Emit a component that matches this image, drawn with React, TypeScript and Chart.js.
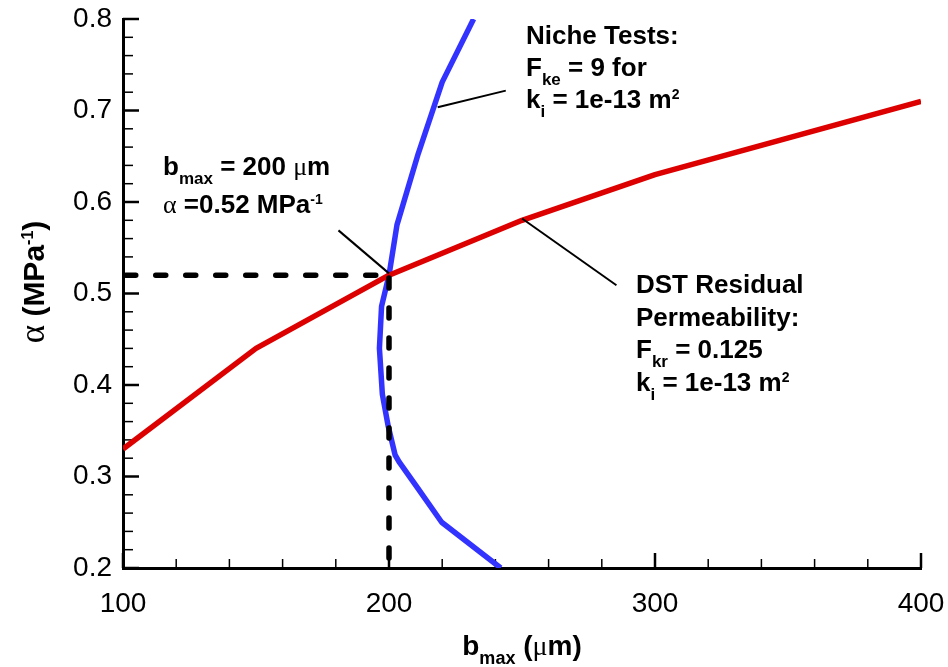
import React, { useEffect, useRef } from 'react';
import { Chart, registerables } from 'chart.js';

Chart.register(...registerables);

// ---- axis ticks ----
const xTickValues = [100, 200, 300, 400];
const yTickValues = [0.2, 0.3, 0.4, 0.5, 0.6, 0.7, 0.8];
const xMinorValues = [120, 140, 160, 180, 220, 240, 260, 280, 320, 340, 360, 380];
const yMinorValues = [0.22, 0.24, 0.26, 0.28, 0.32, 0.34, 0.36, 0.38, 0.42, 0.44, 0.46, 0.48, 0.52, 0.54, 0.56, 0.58, 0.62, 0.64, 0.66, 0.68, 0.72, 0.74, 0.76, 0.78];

// ---- DST residual permeability curve (red) ----
const dstBmax = [100, 150, 200, 250, 300, 400];
const dstAlpha = [0.33, 0.44, 0.52, 0.58, 0.63, 0.71];

// ---- Niche tests curve (blue) ----
const nicheBmax = [242, 219.8, 210.4, 203.8, 202.3, 199.7, 197.5, 196.4, 197.2, 200, 203, 211, 220, 231.8];
const nicheAlpha = [0.2, 0.25, 0.289, 0.316, 0.3235, 0.355, 0.39, 0.44, 0.486, 0.52, 0.575, 0.653, 0.731, 0.8];

// ---- dashed guide lines ----
const guideHBmax = [100, 200];
const guideHAlpha = [0.52, 0.52];
const guideVBmax = [200, 200];
const guideVAlpha = [0.52, 0.2];

// ---- leader lines ----
const leaderPointBmax = [181, 200];
const leaderPointAlpha = [0.569, 0.522];
const leaderNicheBmax = [218.3, 243.9];
const leaderNicheAlpha = [0.7035, 0.7217];
const leaderDstBmax = [250, 285.5];
const leaderDstAlpha = [0.582, 0.509];

const zip = (xs: number[], ys: number[]) => xs.map((x, i) => ({ x, y: ys[i] }));

type Seg = { t: string; f?: 'b' | 'g' | 'n'; p?: 'sub' | 'sup'; k?: number };

const SANS = '"Liberation Sans", Arial, Helvetica, sans-serif';
const SERIF = '"Liberation Serif", "DejaVu Serif", "Times New Roman", serif';

function segFont(seg: Seg, size: number) {
  let s = size * (seg.k || 1);
  if (seg.p === 'sub') s = size * 0.65;
  if (seg.p === 'sup') s = size * 0.52;
  s = Math.round(s);
  if (seg.f === 'g') return `${s}px ${SERIF}`;
  if (seg.f === 'n') return `${s}px ${SANS}`;
  return `bold ${s}px ${SANS}`;
}

function drawRich(ctx: CanvasRenderingContext2D, segs: Seg[], x: number, y: number, size: number, align: 'left' | 'center') {
  ctx.save();
  ctx.textAlign = 'left';
  ctx.textBaseline = 'alphabetic';
  ctx.fillStyle = '#000';
  const widths = segs.map((s) => {
    ctx.font = segFont(s, size);
    return ctx.measureText(s.t).width;
  });
  const total = widths.reduce((a, b) => a + b, 0);
  let cx = align === 'center' ? x - total / 2 : x;
  segs.forEach((s, i) => {
    ctx.font = segFont(s, size);
    const dy = s.p === 'sub' ? size * 0.33 : s.p === 'sup' ? -size * 0.36 : 0;
    ctx.fillText(s.t, cx, y + dy);
    cx += widths[i];
  });
  ctx.restore();
}

const overlayPlugin = {
  id: 'overlay',
  beforeDatasetsDraw(chart: any) {
    const ctx: CanvasRenderingContext2D = chart.ctx;
    const xs = chart.scales.x;
    const ys = chart.scales.y;
    const { left, bottom } = chart.chartArea;
    ctx.save();
    ctx.strokeStyle = '#000';
    const tick = (x1: number, y1: number, x2: number, y2: number, w: number) => {
      ctx.lineWidth = w;
      ctx.beginPath();
      ctx.moveTo(x1, y1);
      ctx.lineTo(x2, y2);
      ctx.stroke();
    };
    xTickValues.forEach((v) => {
      const px = xs.getPixelForValue(v);
      tick(px, bottom, px, bottom - 15, 2.5);
    });
    xMinorValues.forEach((v) => {
      const px = xs.getPixelForValue(v);
      tick(px, bottom, px, bottom - 9, 1.5);
    });
    yTickValues.forEach((v) => {
      const py = ys.getPixelForValue(v);
      tick(left, py, left + 16, py, 2.5);
    });
    yMinorValues.forEach((v) => {
      const py = ys.getPixelForValue(v);
      tick(left, py, left + 10, py, 1.5);
    });
    ctx.restore();
  },
  afterDraw(chart: any) {
    const ctx: CanvasRenderingContext2D = chart.ctx;
    const fs = 26;
    // b_max annotation
    drawRich(ctx, [{ t: 'b' }, { t: 'max', p: 'sub' }, { t: ' = 200 ' }, { t: 'μ', f: 'g' }, { t: 'm' }], 163, 175, fs, 'left');
    drawRich(ctx, [{ t: 'α', f: 'g' }, { t: ' =0.52 MPa' }, { t: '-1', p: 'sup' }], 163, 213, fs, 'left');
    // Niche tests
    drawRich(ctx, [{ t: 'Niche Tests:' }], 526, 44, fs, 'left');
    drawRich(ctx, [{ t: 'F' }, { t: 'ke', p: 'sub' }, { t: ' = 9 for' }], 526, 76, fs, 'left');
    drawRich(ctx, [{ t: 'k' }, { t: 'i', p: 'sub' }, { t: ' = 1e-13 m' }, { t: '2', p: 'sup' }], 526, 108, fs, 'left');
    // DST
    drawRich(ctx, [{ t: 'DST Residual' }], 636, 293, fs, 'left');
    drawRich(ctx, [{ t: 'Permeability:' }], 636, 326, fs, 'left');
    drawRich(ctx, [{ t: 'F' }, { t: 'kr', p: 'sub' }, { t: ' = 0.125' }], 636, 358, fs, 'left');
    drawRich(ctx, [{ t: 'k' }, { t: 'i', p: 'sub' }, { t: ' = 1e-13 m' }, { t: '2', p: 'sup' }], 636, 391, fs, 'left');
    // axis titles
    const { left, right } = chart.chartArea;
    drawRich(ctx, [{ t: 'b' }, { t: 'max', p: 'sub' }, { t: ' (' }, { t: 'μ', f: 'g' }, { t: 'm)' }], (left + right) / 2, 655, 28, 'center');
    ctx.save();
    ctx.translate(44, 282);
    ctx.rotate(-Math.PI / 2);
    drawRich(ctx, [{ t: 'α', f: 'g', k: 1.15 }, { t: ' (MPa' }, { t: '-1', p: 'sup' }, { t: ')' }], 0, 0, 30, 'center');
    ctx.restore();
  },
};

export default function App() {
  const ref = useRef<HTMLCanvasElement | null>(null);
  useEffect(() => {
    if (!ref.current) return;
    const lineDs = (data: { x: number; y: number }[], color: string, width: number, extra: any = {}) => ({
      data,
      showLine: true,
      borderColor: color,
      backgroundColor: color,
      borderWidth: width,
      pointRadius: 0,
      pointHoverRadius: 0,
      tension: 0,
      fill: false,
      borderJoinStyle: 'round',
      ...extra,
    });
    const zeroPad = (s: any) => {
      s.paddingLeft = 0;
      s.paddingRight = 0;
      s.paddingTop = 0;
      s.paddingBottom = 0;
    };
    const chart = new Chart(ref.current, {
      type: 'scatter',
      data: {
        datasets: [
          lineDs(zip(leaderPointBmax, leaderPointAlpha), '#000', 2),
          lineDs(zip(leaderNicheBmax, leaderNicheAlpha), '#000', 2),
          lineDs(zip(leaderDstBmax, leaderDstAlpha), '#000', 2),
          lineDs(zip(guideHBmax, guideHAlpha), '#000', 5.5, { borderDash: [10, 20], borderDashOffset: -2.75, borderCapStyle: 'round' }),
          lineDs(zip(guideVBmax, guideVAlpha), '#000', 5.5, { borderDash: [10, 20], borderDashOffset: -2.75, borderCapStyle: 'round' }),
          lineDs(zip(dstBmax, dstAlpha), '#dd0000', 5.5),
          lineDs(zip(nicheBmax, nicheAlpha), '#3333ff', 5.5),
        ] as any,
      },
      options: {
        animation: false,
        responsive: false,
        events: [],
        layout: { padding: { left: 0, right: 27, top: 19, bottom: 0 } },
        plugins: { legend: { display: false }, tooltip: { enabled: false } },
        scales: {
          x: {
            type: 'linear',
            min: 100,
            max: 400,
            afterBuildTicks: (s: any) => {
              s.ticks = xTickValues.map((v) => ({ value: v }));
            },
            afterFit: (s: any) => {
              s.height = 99;
              zeroPad(s);
            },
            grid: { display: false, drawTicks: false },
            border: { display: true, color: '#000', width: 3 },
            ticks: {
              autoSkip: false,
              maxRotation: 0,
              padding: 19,
              color: '#000',
              font: { family: SANS, size: 28 },
              callback: (v: any) => String(v),
            },
          },
          y: {
            type: 'linear',
            min: 0.2,
            max: 0.8,
            afterBuildTicks: (s: any) => {
              s.ticks = yTickValues.map((v) => ({ value: v }));
            },
            afterFit: (s: any) => {
              s.width = 123;
              zeroPad(s);
            },
            grid: { display: false, drawTicks: false },
            border: { display: true, color: '#000', width: 3 },
            ticks: {
              autoSkip: false,
              padding: 11,
              color: '#000',
              font: { family: SANS, size: 28 },
              callback: (v: any) => Number(v).toFixed(1),
            },
          },
        },
      } as any,
      plugins: [overlayPlugin as any],
    });
    return () => chart.destroy();
  }, []);
  return (
    <div style={{ position: 'absolute', left: 0, top: 0, width: 948, height: 667, background: '#fff' }}>
      <canvas ref={ref} width={948} height={667} />
    </div>
  );
}
